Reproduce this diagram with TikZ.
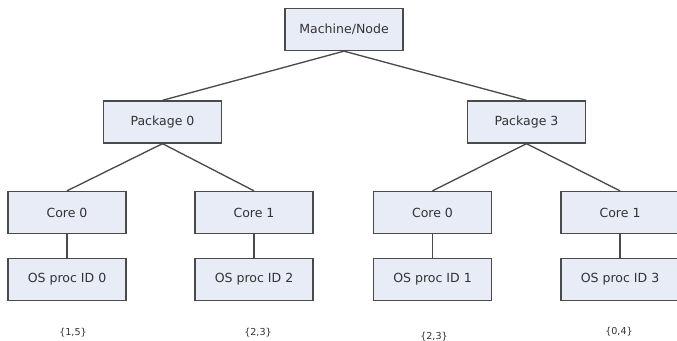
\documentclass[tikz,border=0pt]{standalone}
\usepackage{fontspec}
\setmainfont{DejaVu Sans}
\definecolor{boxfill}{HTML}{E8ECF7}
\definecolor{boxline}{HTML}{4A4A4A}
\definecolor{txt}{HTML}{333333}
\begin{document}
\begin{tikzpicture}[x=0.75pt,y=-0.75pt,
  box/.style={draw=boxline,fill=boxfill,line width=1pt,minimum width=88.5pt,minimum height=31.5pt,inner sep=0pt,
    text=txt,font=\fontsize{9.4}{11}\selectfont},
  link/.style={draw=boxline,line width=1pt},
  setlbl/.style={text=txt,font=\fontsize{7.2}{8}\selectfont,inner sep=0pt}]
\useasboundingbox (0,0) rectangle (677,341);
\node[box] (m) at (344,29.5) {Machine/Node};
\node[box] (p0) at (162.5,122) {Package 0};
\node[box] (p3) at (526.5,122) {Package 3};
\node[box] (c00) at (67,212.5) {Core 0};
\node[box] (c01) at (254,212.5) {Core 1};
\node[box] (c30) at (432.5,212.5) {Core 0};
\node[box] (c31) at (620,212.5) {Core 1};
\node[box] (os0) at (67,279.5) {OS proc ID 0};
\node[box] (os2) at (254,279.5) {OS proc ID 2};
\node[box] (os1) at (432.5,279.5) {OS proc ID 1};
\node[box] (os3) at (620,279.5) {OS proc ID 3};
\node[setlbl] (s0) at (73,333) {\{1,5\}};
\node[setlbl] (s1) at (258,333) {\{2,3\}};
\node[setlbl] (s2) at (434,337) {\{2,3\}};
\node[setlbl] (s3) at (619,332) {\{0,4\}};
\draw[link] (m.south) -- (p0.north);
\draw[link] (m.south) -- (p3.north);
\draw[link] (p0.south) -- (c00.north);
\draw[link] (p0.south) -- (c01.north);
\draw[link] (p3.south) -- (c30.north);
\draw[link] (p3.south) -- (c31.north);
\draw[link] (c00.south) -- (os0.north);
\draw[link] (c01.south) -- (os2.north);
\draw[link] (c30.south) -- (os1.north);
\draw[link] (c31.south) -- (os3.north);
\end{tikzpicture}
\end{document}
